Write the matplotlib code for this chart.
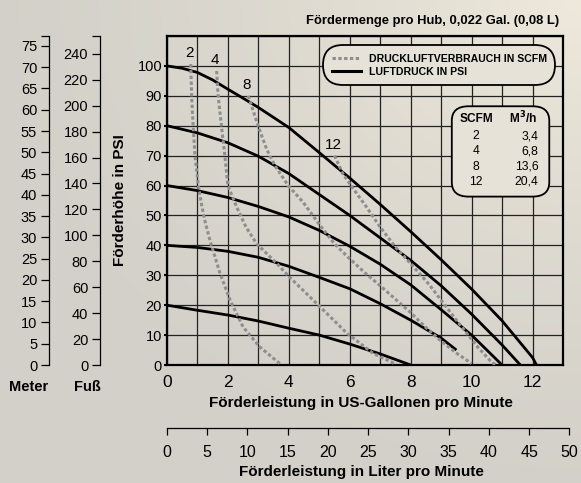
import numpy as np
import matplotlib.pyplot as plt
from matplotlib.patches import FancyBboxPatch
from matplotlib.lines import Line2D

plt.rcParams['font.family'] = ['Liberation Sans', 'DejaVu Sans']

# Luftdruck-Kurven (PSI), Förderleistung in US-Gallonen pro Minute
gpm_100 = [0, 0.5, 1, 1.5, 2, 2.5, 3, 4, 5, 6, 7, 8, 9, 10, 11, 12, 12.13]
psi_100 = [100, 99.2, 97.8, 95.3, 92.2, 89.2, 86.1, 79.4, 71, 62.5, 53.7, 44.6, 35.2, 25.4, 14.8, 2.5, 0]
gpm_80 = [0, 1, 2, 3, 4, 5, 6, 7, 8, 9, 10, 11, 11.6]
psi_80 = [80, 77.6, 74.3, 69.8, 64, 57, 50, 42.5, 35, 26.5, 17, 6.7, 0]
gpm_60 = [0, 1, 2, 3, 4, 5, 6, 7, 8, 9, 10, 11]
psi_60 = [60, 58.3, 56, 53, 49.5, 45, 39.7, 33.7, 26.8, 18.5, 10, 0]
gpm_40 = [0, 1, 2, 3, 4, 5, 6, 7, 8, 9, 9.5]
psi_40 = [40, 39.3, 38, 36, 33, 29.3, 25.5, 20.5, 15, 9, 5]
gpm_20 = [0, 1, 2, 3, 4, 5, 6, 7, 8]
psi_20 = [20, 18.3, 16.7, 14.7, 12.3, 10, 7, 3.7, 0]

# Druckluftverbrauch (SCFM)
gpm_s2 = [0.78, 0.81, 0.86, 0.92, 1.03, 1.14, 1.25, 1.41, 1.74, 2.07, 2.5, 3.05, 3.7]
psi_s2 = [100.6, 90, 79.7, 70, 60, 53.3, 48, 41.7, 30.7, 21.7, 12.7, 6, 0.5]
gpm_s4 = [1.63, 1.68, 1.79, 1.9, 2.0, 2.28, 2.6, 2.94, 3.6, 4.03, 4.9, 5.9, 6.75, 7.5]
psi_s4 = [98.3, 90, 79.7, 70, 60, 53, 46, 40.6, 34, 29.3, 20.7, 10.7, 4, 0.3]
gpm_s8 = [2.67, 3.0, 3.27, 3.54, 3.98, 4.47, 5.0, 5.5, 6.0, 6.5, 7.0, 7.5, 8.0, 8.5, 9.0, 9.5, 10.0]
psi_s8 = [90, 79.7, 72.2, 66.7, 60, 54.4, 47, 40.5, 35.5, 30.8, 26.5, 22, 17.5, 12.5, 8, 4, 0.5]
gpm_s12 = [5.5, 5.77, 6.0, 6.55, 7.0, 7.5, 8.0, 8.6, 9.5, 10.2, 10.65, 10.8]
psi_s12 = [70, 64, 60.6, 52.8, 46.1, 39.4, 33.9, 27, 15, 6, 1, 0]

druck_kurven = [(gpm_100, psi_100), (gpm_80, psi_80), (gpm_60, psi_60),
                (gpm_40, psi_40), (gpm_20, psi_20)]
scfm_kurven = [(gpm_s2, psi_s2, '2'), (gpm_s4, psi_s4, '4'),
               (gpm_s8, psi_s8, '8'), (gpm_s12, psi_s12, '12')]

scfm_werte = ['2', '4', '8', '12']
m3h_werte = ['3,4', '6,8', '13,6', '20,4']

PSI_ZU_M = 0.70307
PSI_ZU_FT = 2.3067
GAL_ZU_L = 3.7854
x_max, y_max = 13, 110

fig = plt.figure(figsize=(5.81, 4.83), dpi=100)

# Hintergrund mit leichtem Verlauf
bg = fig.add_axes([0, 0, 1, 1], zorder=-10)
yy, xx = np.mgrid[0:1:200j, 0:1:240j]
t = np.clip(1.0 - np.hypot(1 - xx, 1 - yy) / 1.1, 0, 1) ** 1.5
c0 = np.array([211, 208, 201]) / 255
c1 = np.array([238, 233, 219]) / 255
img = c0 + (c1 - c0) * t[..., None]
bg.imshow(img, origin='lower', aspect='auto', extent=[0, 1, 0, 1])
bg.axis('off')

ax_l, ax_b, ax_w, ax_h = 0.2874, 0.2443, 0.6816, 0.6812
ax = fig.add_axes([ax_l, ax_b, ax_w, ax_h])
ax.patch.set_alpha(0)
ax.set_xlim(0, x_max)
ax.set_ylim(0, y_max)
ax.set_xticks(np.arange(0, 13, 2))
ax.set_xticks(np.arange(0, 14, 1), minor=True)
ax.set_yticks(np.arange(0, 101, 10))
ax.set_yticks(np.arange(0, 111, 10), minor=True)
ax.grid(True, which='both', color='#222222', lw=0.9)
ax.tick_params(axis='x', which='both', length=0, pad=7, labelsize=12.5)
ax.tick_params(axis='y', which='major', length=2, width=1.5, pad=1.5, labelsize=10.5)
ax.tick_params(axis='y', which='minor', length=0)
for s in ax.spines.values():
    s.set_linewidth(1.6)
ax.set_xlabel('Förderleistung in US-Gallonen pro Minute', fontsize=11, fontweight='bold')
ax.xaxis.set_label_coords(0.49, -0.095)
ax.set_ylabel('Förderhöhe in PSI', fontsize=11, fontweight='bold')
ax.yaxis.set_label_coords(-0.1, 0.5)

for g, p in druck_kurven:
    ax.plot(g, p, color='black', lw=2.0, solid_capstyle='butt', solid_joinstyle='round', zorder=4)
for g, p, name in scfm_kurven:
    ax.plot(g, p, color='#8e8e8e', lw=2.2, dashes=(1.1, 0.8), zorder=5)
    ax.annotate(name, (g[0], p[0]), xytext=(-1, 8), textcoords='offset points',
                ha='center', va='center', fontsize=11, zorder=6)

# Legende
handles = [Line2D([], [], color='#8e8e8e', lw=2.2, dashes=(1.1, 0.8)),
           Line2D([], [], color='black', lw=2.2)]
leg = ax.legend(handles, ['DRUCKLUFTVERBRAUCH IN SCFM', 'LUFTDRUCK IN PSI'],
                loc='upper right', bbox_to_anchor=(0.983, 0.975), frameon=True,
                fancybox=True, handlelength=2.8, handletextpad=0.7,
                labelspacing=0.3, borderpad=0.6, borderaxespad=0.3,
                prop={'weight': 'bold', 'size': 7.6})
fr = leg.get_frame()
fr.set_boxstyle('round,pad=0.2,rounding_size=1.9')
fr.set_facecolor('#e6e2d7')
fr.set_edgecolor('black')
fr.set_linewidth(1.3)
fr.set_alpha(1)
leg.set_zorder(10)

# Tabelle SCFM / M3/h
tab = FancyBboxPatch((9.35, 56.3), 3.2, 30.2, boxstyle='round,pad=0,rounding_size=0.55',
                     mutation_aspect=110 / 13 * 329 / 396 / 0.8,
                     fc='#e6e2d7', ec='black', lw=1.3, zorder=9)
ax.add_patch(tab)
ax.text(10.15, 82.3, 'SCFM', ha='center', va='center', fontsize=8.6, fontweight='bold', zorder=11)
ax.text(11.7, 82.5, 'M$^\\mathbf{3}$/h', ha='center', va='center', fontsize=8.6, fontweight='bold', zorder=11)
for i, (s, m) in enumerate(zip(scfm_werte, m3h_werte)):
    yv = 76.5 - i * 5.1
    ax.text(10.15, yv, s, ha='center', va='center', fontsize=8.7, zorder=11)
    ax.text(12.2, yv, m, ha='right', va='center', fontsize=8.7, zorder=11)

ax.text(0.99, 1.036, 'Fördermenge pro Hub, 0,022 Gal. (0,08 L)', transform=ax.transAxes,
        ha='right', va='baseline', fontsize=9.4, fontweight='bold')

# Meter-Skala
ax_m = fig.add_axes([49 / 581, ax_b, 0.001, ax_h])
ax_m.set_ylim(0, y_max * PSI_ZU_M)
ax_m.set_yticks(np.arange(0, 76, 5))
ax_m.set_yticks([y_max * PSI_ZU_M], minor=True)
ax_m.tick_params(axis='y', which='both', length=6, width=0.9, pad=2.5, labelsize=10.5)
ax_m.set_xticks([])
for k in ['top', 'right', 'bottom']:
    ax_m.spines[k].set_visible(False)
ax_m.spines['left'].set_linewidth(0.9)
ax_m.patch.set_alpha(0)
fig.text(29 / 581, 1 - 387 / 483, 'Meter', ha='center', va='center', fontsize=10.5, fontweight='bold')

# Fuß-Skala
ax_f = fig.add_axes([100 / 581, ax_b, 0.001, ax_h])
ax_f.set_ylim(0, y_max * PSI_ZU_FT)
ax_f.set_yticks(np.arange(0, 241, 20))
ax_f.set_yticks([y_max * PSI_ZU_FT], minor=True)
ax_f.tick_params(axis='y', which='both', length=6, width=0.9, pad=2.5, labelsize=10.5)
ax_f.set_xticks([])
for k in ['top', 'right', 'bottom']:
    ax_f.spines[k].set_visible(False)
ax_f.spines['left'].set_linewidth(0.9)
ax_f.patch.set_alpha(0)
fig.text(87 / 581, 1 - 387 / 483, 'Fuß', ha='center', va='center', fontsize=10.5, fontweight='bold')

# Liter-Skala
l_max = 50
ax_lt = fig.add_axes([ax_l, 1 - 428 / 483, ax_w * (l_max / GAL_ZU_L) / x_max, 0.001])
ax_lt.set_xlim(0, l_max)
ax_lt.set_xticks(np.arange(0, 51, 5))
ax_lt.tick_params(axis='x', length=5, width=0.9, pad=7, labelsize=11.5)
ax_lt.set_yticks([])
for k in ['top', 'right', 'left']:
    ax_lt.spines[k].set_visible(False)
ax_lt.spines['bottom'].set_linewidth(0.9)
ax_lt.patch.set_alpha(0)
fig.text(361 / 581, 1 - 472 / 483, 'Förderleistung in Liter pro Minute', ha='center', va='center',
         fontsize=11, fontweight='bold')

fig.savefig('out.png', dpi=100)
